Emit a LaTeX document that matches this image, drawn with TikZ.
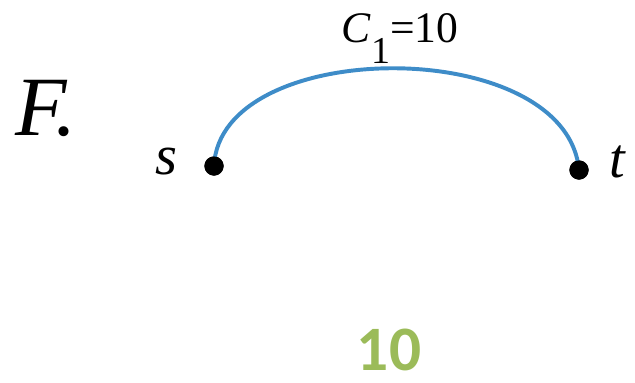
\documentclass[tikz,border=0pt]{standalone}
\usepackage{fontspec}
\setmainfont{Liberation Serif}
\newfontfamily\ansfont{Carlito}
\usetikzlibrary{positioning}
\definecolor{arcblue}{RGB}{62,140,200}
\definecolor{ansgreen}{RGB}{155,187,89}

\begin{document}
\begin{tikzpicture}[x=0.025cm,y=-0.025cm,
    vertex/.style={circle, fill=black, inner sep=0pt, minimum size=0.48cm},
    lbl/.style={inner sep=0pt, anchor=base, font=\fontsize{40}{44}\selectfont\itshape},
    edge/.style={line width=2.8pt, draw=arcblue}
]
\useasboundingbox (0,0) rectangle (635,382);
\node[lbl, font=\fontsize{60}{64}\selectfont\itshape] (tag) at (46,135) {F.};

\begin{scope}
\clip (0,0) rectangle (635,179);
\node[vertex] (s) at (214,166) {};
\node[vertex] (t) at (579,170) {};
\draw[edge] (s.center) .. controls (220,36) and (566,34) .. (t.center);
\node[vertex] at (s) {};
\node[vertex] at (t) {};
\end{scope}

\node[lbl] (slbl) at (166,174) {s};
\node[lbl] (tlbl) at (617,177) {t};
\node[inner sep=0pt, anchor=base, font=\fontsize{31}{34}\selectfont] (cap) at (400,42)
    {\textit{C}\raisebox{-0.5em}{\fontsize{27}{27}\selectfont 1}=10};

\node[inner sep=0pt, anchor=base, text depth=0pt, text=ansgreen, font=\ansfont\bfseries\fontsize{45}{48}\selectfont] (ans) at (389,370) {10};
\end{tikzpicture}
\end{document}
